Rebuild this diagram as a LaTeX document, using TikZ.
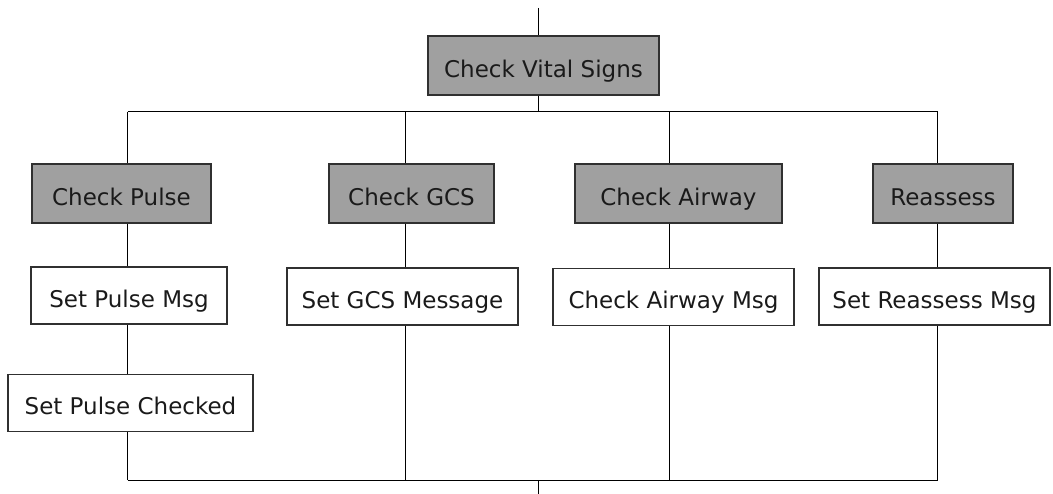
\documentclass[tikz,border=0pt]{standalone}
\usepackage{fontspec}
\setmainfont{DejaVu Sans}
\definecolor{boxgray}{HTML}{A0A0A0}
\definecolor{edgegray}{HTML}{303030}
\definecolor{inkdark}{HTML}{1A1A1A}
\begin{document}
\begin{tikzpicture}[x=1pt,y=-1pt,
  every node/.style={font=\fontsize{23}{27}\selectfont, text=inkdark, inner sep=0pt,
                     text height=24pt, text depth=0pt},
  taskbox/.style={draw=edgegray, line width=1.1pt, fill=boxgray, minimum height=59pt},
  msgbox/.style={draw=edgegray, line width=1.1pt, fill=white, minimum height=57pt},
  wire/.style={draw=black, line width=1pt}]
\useasboundingbox (0,0) rectangle (1053,494);

% column positions on the upper and lower bus
\coordinate (t1) at (127.5,112);
\coordinate (t2) at (405.5,112);
\coordinate (t3) at (669,112);
\coordinate (t4) at (937.5,112);
\coordinate (b1) at (127.5,480);
\coordinate (b2) at (405.5,480);
\coordinate (b3) at (669,480);
\coordinate (b4) at (937.5,480);
\coordinate (tm) at (538,112);
\coordinate (bm) at (538,480);
\coordinate (entry) at (538,8);
\coordinate (exit) at (538,494);

% boxes
\node[taskbox, minimum width=231pt] (vital) at (543.5,65.5) {Check Vital Signs};

\node[taskbox, minimum width=179pt] (pulse)  at (121.5,193.5) {Check Pulse};
\node[taskbox, minimum width=165pt] (gcs)    at (411.5,193.5) {Check GCS};
\node[taskbox, minimum width=207pt] (airway) at (678.5,193.5) {Check Airway};
\node[taskbox, minimum width=140pt] (reass)  at (943,193.5)   {Reassess};

\node[msgbox, minimum width=196pt] (pulsemsg) at (129,295.5)   {Set Pulse Msg};
\node[msgbox, minimum width=231pt] (gcsmsg)   at (402.5,296.5) {Set GCS Message};
\node[msgbox, minimum width=241pt] (airmsg)   at (673.5,297)   {Check Airway Msg};
\node[msgbox, minimum width=231pt] (reassmsg) at (934.5,296.5) {Set Reassess Msg};

\node[msgbox, minimum width=245pt] (pulsechk) at (130.5,403)   {Set Pulse Checked};

% connectors
\draw[wire] (entry) -- (entry |- vital.north);
\draw[wire] (vital.south -| tm) -- (tm);
\draw[wire] (t1) -- (t4);

\draw[wire] (t1) -- (t1 |- pulse.north);
\draw[wire] (pulse.south -| t1) -- (pulsemsg.north -| t1);
\draw[wire] (pulsemsg.south -| t1) -- (pulsechk.north -| t1);
\draw[wire] (pulsechk.south -| t1) -- (b1);

\draw[wire] (t2) -- (t2 |- gcs.north);
\draw[wire] (gcs.south -| t2) -- (gcsmsg.north -| t2);
\draw[wire] (gcsmsg.south -| t2) -- (b2);

\draw[wire] (t3) -- (t3 |- airway.north);
\draw[wire] (airway.south -| t3) -- (airmsg.north -| t3);
\draw[wire] (airmsg.south -| t3) -- (b3);

\draw[wire] (t4) -- (t4 |- reass.north);
\draw[wire] (reass.south -| t4) -- (reassmsg.north -| t4);
\draw[wire] (reassmsg.south -| t4) -- (b4);

\draw[wire] (b1) -- (b4);
\draw[wire] (bm) -- (exit);
\end{tikzpicture}
\end{document}
